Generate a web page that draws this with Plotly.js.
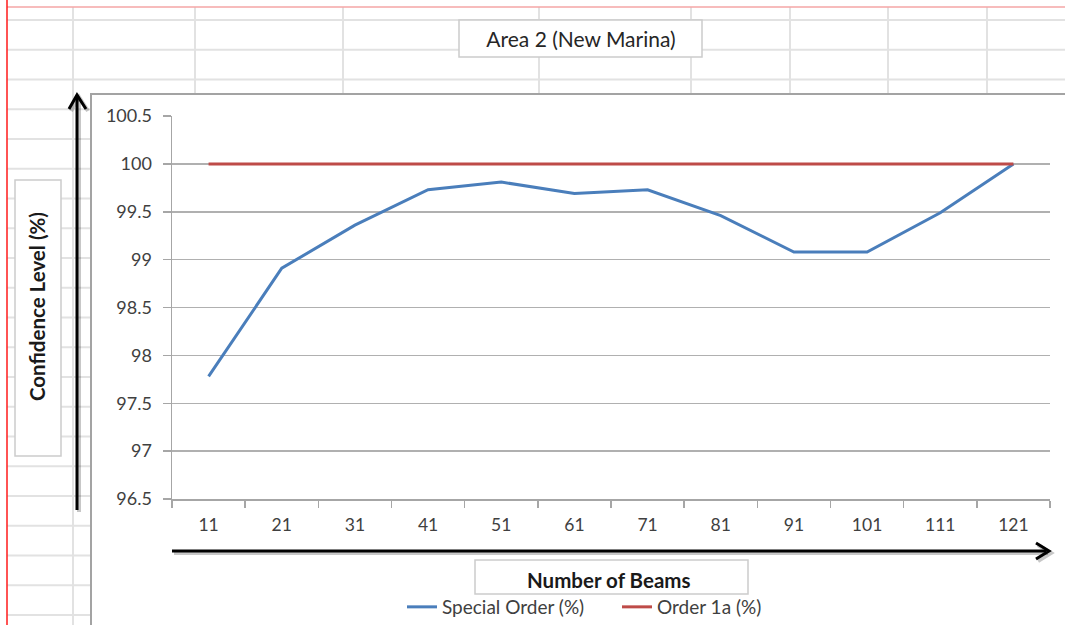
<!DOCTYPE html>
<html>
<head>
<meta charset="utf-8">
<script src="https://cdn.plot.ly/plotly-3.0.1.min.js"></script>
<style>
  html, body { margin: 0; padding: 0; background: #ffffff; }
  #chart { width: 1065px; height: 625px; }
</style>
</head>
<body>
<div id="chart"></div>
<script>
// ---- data ----
var beams = ['11', '21', '31', '41', '51', '61', '71', '81', '91', '101', '111', '121'];
var specialOrder = [97.78, 98.91, 99.36, 99.73, 99.81, 99.69, 99.73, 99.46, 99.08, 99.08, 99.49, 100];
var order1a = [100, 100, 100, 100, 100, 100, 100, 100, 100, 100, 100, 100];
var yTicks = [96.5, 97, 97.5, 98, 98.5, 99, 99.5, 100, 100.5];
var seriesNames = ['Special Order (%)', 'Order 1a (%)'];
var chartTitle = 'Area 2 (New Marina)';
var xTitle = 'Number of Beams';
var yTitle = 'Confidence Level (%)';

// ---- geometry helpers (pixel -> paper) ----
var W = 1065, H = 625;
var L = 172, R = 1050, T = 116, B = 499;
function X(p) { return (p - L) / (R - L); }
function Y(p) { return (B - p) / (B - T); }

var FONT = 'Lato, "Open Sans", sans-serif';
var shapes = [];
function line(x0, y0, x1, y1, color, width, layer) {
  shapes.push({type: 'line', xref: 'paper', yref: 'paper', x0: X(x0), y0: Y(y0), x1: X(x1), y1: Y(y1),
    line: {color: color, width: width}, layer: layer || 'below'});
}
function rect(x0, y0, x1, y1, fill, color, width, layer) {
  shapes.push({type: 'rect', xref: 'paper', yref: 'paper', x0: X(x0), y0: Y(y0), x1: X(x1), y1: Y(y1),
    fillcolor: fill, line: {color: color, width: width}, layer: layer || 'below'});
}
function path(pts, color, width, layer) {
  var d = 'M' + pts.map(function (p) { return X(p[0]) + ',' + Y(p[1]); }).join(' L');
  shapes.push({type: 'path', xref: 'paper', yref: 'paper', path: d,
    line: {color: color, width: width}, layer: layer || 'above'});
}

// spreadsheet background grid
var gridCol = '#e2e2e2';
var cols = [73, 195, 343, 539, 691, 790, 888, 987];
cols.forEach(function (c) { line(c, 7, c, H + 5, gridCol, 2); });
for (var r = 20; r < H + 5; r += 29.75) { line(7, r, W + 5, r, gridCol, 2); }
line(7, 7, W + 5, 7, '#f4a6a6', 1.5);
line(7, 0, 7, H + 5, '#ff1a1a', 1.5);

// chart area
rect(91, 94, W + 10, H + 10, '#ffffff', '#a3a3a3', 2);

// title boxes
rect(459, 20, 702, 57, '#ffffff', '#cccccc', 1.5);
rect(15, 180, 61, 456, '#ffffff', '#cccccc', 1.5);
rect(475, 560, 748, 594, '#ffffff', '#cccccc', 1.5);

// arrows (with soft shadow)
var sh = 'rgba(0,0,0,0.22)';
line(79, 512, 79, 98, sh, 4, 'above');
path([[71, 111], [79, 97], [88, 111]], sh, 4);
line(174, 553, 1048, 553, sh, 4, 'above');
path([[1038, 545], [1051, 553], [1038, 561]], sh, 4);
line(77, 510, 77, 96, '#000000', 3, 'above');
path([[69, 109], [77, 95], [86, 109]], '#000000', 3);
line(172, 551, 1046, 551, '#000000', 3, 'above');
path([[1036, 543], [1049, 551], [1036, 559]], '#000000', 3);

var traces = [
  {x: beams, y: specialOrder, name: seriesNames[0], type: 'scatter', mode: 'lines',
   line: {color: '#4a7ebb', width: 3}},
  {x: beams, y: order1a, name: seriesNames[1], type: 'scatter', mode: 'lines',
   line: {color: '#be4b48', width: 3}}
];

var layout = {
  width: W, height: H,
  margin: {l: L, r: W - R, t: T, b: H - B, pad: 0, autoexpand: false},
  paper_bgcolor: '#ffffff',
  plot_bgcolor: 'rgba(0,0,0,0)',
  font: {family: FONT, color: '#404040', size: 16},
  title: {text: chartTitle, x: 581 / W, xref: 'container', xanchor: 'center',
          y: 1 - 40 / H, yref: 'container', yanchor: 'middle',
          font: {family: FONT, size: 21, color: '#262626'}},
  xaxis: {type: 'category', range: [-0.5, 11.5], tickson: 'boundaries',
          ticks: 'outside', ticklen: 7, tickcolor: '#a6a6a6', tickwidth: 1.5,
          showline: true, linecolor: '#a6a6a6', linewidth: 1.5,
          showgrid: false, zeroline: false, fixedrange: true, ticklabelstandoff: 9,
          tickfont: {family: FONT, size: 17.5, color: '#404040'}},
  yaxis: {range: [96.5, 100.5], tickvals: yTicks, ticktext: yTicks.map(String),
          ticks: 'outside', ticklen: 8, tickcolor: '#a6a6a6', tickwidth: 1.5,
          showline: true, linecolor: '#a6a6a6', linewidth: 1.5,
          showgrid: true, gridcolor: '#b0b0b0', gridwidth: 1.5, zeroline: false,
          fixedrange: true, ticklabelstandoff: 7,
          tickfont: {family: FONT, size: 18, color: '#404040'}},
  showlegend: true,
  legend: {orientation: 'h', x: X(402), xanchor: 'left', y: Y(607), yanchor: 'middle',
           bgcolor: 'rgba(0,0,0,0)', borderwidth: 0, entrywidth: 170, entrywidthmode: 'pixels',
           font: {family: FONT, size: 19, color: '#404040'}},
  shapes: shapes,
  annotations: [
    {text: '<b>' + yTitle + '</b>', xref: 'paper', yref: 'paper', x: X(37), y: Y(307),
     textangle: -90, showarrow: false, xanchor: 'center', yanchor: 'middle',
     font: {family: FONT, size: 20.5, color: '#1a1a1a'}},
    {text: '<b>' + xTitle + '</b>', xref: 'paper', yref: 'paper', x: X(608), y: Y(580),
     showarrow: false, xanchor: 'center', yanchor: 'middle',
     font: {family: FONT, size: 20.5, color: '#1a1a1a'}}
  ]
};

Plotly.newPlot('chart', traces, layout, {displayModeBar: false, staticPlot: true});
</script>
</body>
</html>
